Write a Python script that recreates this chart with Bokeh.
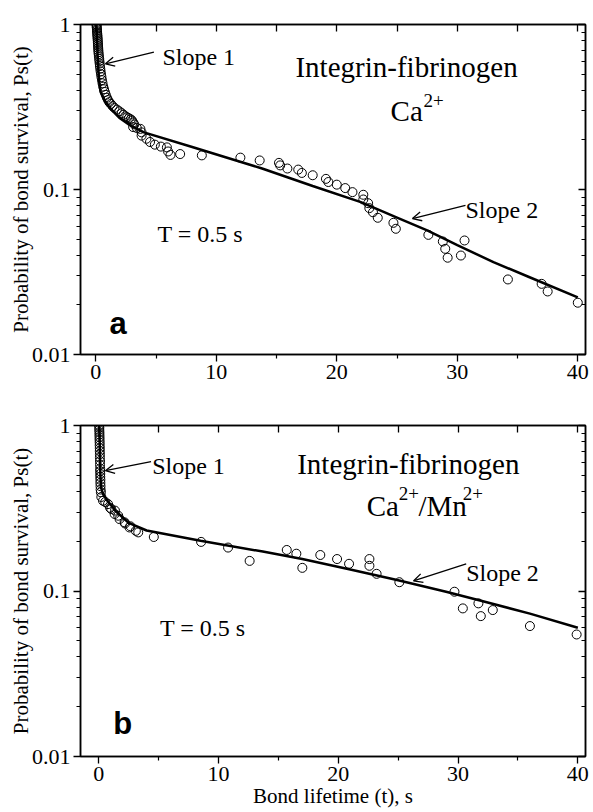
from bokeh.plotting import figure
from bokeh.models import (LinearAxis, LogAxis, FixedTicker, Range1d, Label, Arrow,
                          OpenHead, CustomJSTickFormatter)
from bokeh.layouts import column
from bokeh.embed import file_html
from bokeh.resources import INLINE

# ---------------- data: panel a (Ca2+) ----------------
a_t = [0.06, 0.07, 0.08, 0.09, 0.10, 0.11, 0.12, 0.13, 0.14, 0.15, 0.16, 0.17, 0.18, 0.19, 0.20,
       0.21, 0.22, 0.24, 0.26, 0.28, 0.30, 0.32, 0.34, 0.37, 0.40, 0.43, 0.47, 0.51, 0.56, 0.62,
       0.68, 0.75, 0.83, 0.92, 1.02, 1.12, 1.25, 1.40, 1.55, 1.75, 1.95, 2.15, 2.30, 2.45, 2.60,
       2.75, 2.90, 3.00, 3.10, 3.20, 3.10, 3.40, 3.70, 3.80, 3.80, 4.20, 4.50, 4.90, 5.40, 5.90,
       6.00, 6.20, 7.00, 8.80, 12.0, 13.6, 15.2, 15.3, 15.9, 16.8, 17.1, 18.0, 19.1, 19.3, 20.0,
       20.7, 21.3, 22.2, 22.2, 22.6, 22.7, 23.0, 23.4, 24.7, 24.9, 27.6, 28.8, 29.0, 29.2, 30.6,
       30.3, 34.2, 37.0, 37.5, 40.0]
a_p = [1.00, 0.98, 0.96, 0.94, 0.92, 0.90, 0.88, 0.86, 0.84, 0.82, 0.80, 0.78, 0.76, 0.74, 0.72,
       0.70, 0.68, 0.66, 0.64, 0.62, 0.60, 0.58, 0.56, 0.54, 0.52, 0.50, 0.48, 0.46, 0.44, 0.42,
       0.405, 0.39, 0.375, 0.36, 0.348, 0.338, 0.33, 0.32, 0.312, 0.305, 0.298, 0.29, 0.284, 0.278, 0.274,
       0.27, 0.266, 0.262, 0.255, 0.248, 0.239, 0.236, 0.233, 0.222, 0.212, 0.203, 0.194, 0.187, 0.182, 0.180,
       0.170, 0.162, 0.164, 0.161, 0.156, 0.150, 0.145, 0.140, 0.134, 0.132, 0.126, 0.122, 0.116, 0.111, 0.107,
       0.102, 0.0964, 0.0929, 0.0870, 0.0826, 0.0771, 0.0728, 0.0674, 0.0628, 0.0578, 0.0531, 0.0484, 0.0437, 0.0386, 0.0491,
       0.0398, 0.0285, 0.0268, 0.0241, 0.0206]
a_fit_t = [0.05, 0.1, 0.15, 0.22, 0.3, 0.4, 0.7, 1.2, 2.0, 2.8, 4.0, 8.0, 13.8, 18.0, 22.0, 25.0,
           27.5, 30.0, 33.0, 36.0, 40.0]
a_fit_p = [1.0, 0.8, 0.65, 0.52, 0.44, 0.39, 0.35, 0.31, 0.27, 0.246, 0.222, 0.181, 0.134, 0.105,
           0.0838, 0.0676, 0.0565, 0.046, 0.0363, 0.0294, 0.0222]

# ---------------- data: panel b (Ca2+/Mn2+) ----------------
b_t = [0.04, 0.05, 0.05, 0.06, 0.06, 0.07, 0.07, 0.08, 0.08, 0.09, 0.09, 0.10, 0.10, 0.11, 0.11,
       0.12, 0.12, 0.13, 0.13, 0.14, 0.14, 0.15, 0.16, 0.18, 0.22, 0.36, 0.55, 0.78, 0.95, 1.05,
       1.36, 1.33, 1.63, 1.74, 2.16, 2.20, 2.57, 2.65, 3.10, 3.30, 4.60, 8.55, 10.8, 12.6, 15.7,
       16.5, 17.0, 18.5, 19.9, 20.9, 22.6, 22.6, 23.2, 25.1, 29.7, 30.4, 31.7, 31.9, 32.9, 36.0,
       39.9]
b_p = [1.00, 0.97, 0.94, 0.91, 0.88, 0.85, 0.82, 0.79, 0.76, 0.73, 0.70, 0.67, 0.64, 0.61, 0.58,
       0.55, 0.53, 0.51, 0.49, 0.47, 0.45, 0.43, 0.41, 0.395, 0.37, 0.351, 0.345, 0.335, 0.318, 0.313,
       0.306, 0.292, 0.285, 0.272, 0.260, 0.256, 0.242, 0.246, 0.231, 0.226, 0.212, 0.198, 0.183, 0.152, 0.177,
       0.168, 0.138, 0.165, 0.156, 0.146, 0.156, 0.142, 0.127, 0.113, 0.099, 0.0785, 0.0842, 0.0705, 0.0767, 0.0614,
       0.0546]
b_fit_t = [0.05, 0.08, 0.11, 0.14, 0.2, 0.4, 0.8, 1.5, 2.5, 4.0, 8.5, 13.7, 17.0, 21.0, 25.0,
           29.0, 32.0, 36.0, 40.0]
b_fit_p = [1.0, 0.8, 0.62, 0.5, 0.42, 0.38, 0.345, 0.30, 0.258, 0.232, 0.201, 0.173, 0.156, 0.135,
           0.116, 0.099, 0.087, 0.073, 0.06]

# ---------------- ticks ----------------
x_major = [0, 10, 20, 30, 40]
x_minor = [5, 15, 25, 35]
x_top = [0, 5, 10, 15, 20, 25, 30, 35, 40]
y_major = [0.01, 0.1, 1]
y_minor = [0.02, 0.03, 0.04, 0.05, 0.06, 0.07, 0.08, 0.09,
           0.2, 0.3, 0.4, 0.5, 0.6, 0.7, 0.8, 0.9]

SERIF = "Liberation Serif"


def blank():
    return CustomJSTickFormatter(code="return ''")


def ylog_fmt():
    return CustomJSTickFormatter(code="""
        if (tick >= 0.999) return '1';
        if (tick >= 0.0999) return '0.1';
        return '0.01';
    """)


def make_panel(x0, height, left, top, bottom, show_xlabel, t, p, ft, fp, texts):
    f = figure(width=593, height=height, y_axis_type="log",
               x_range=Range1d(x0, 40.64), y_range=Range1d(0.01, 1),
               output_backend="svg", toolbar_location=None,
               min_border_left=left, min_border_right=8,
               min_border_top=top, min_border_bottom=bottom,
               x_axis_location=None, y_axis_location=None)
    f.xgrid.visible = False
    f.ygrid.visible = False
    f.outline_line_color = "black"
    f.outline_line_width = 1.5
    f.background_fill_color = "white"
    f.border_fill_color = "white"

    xb = LinearAxis(ticker=FixedTicker(ticks=x_major, minor_ticks=x_minor))
    xt = LinearAxis(ticker=FixedTicker(ticks=x_top), formatter=blank())
    yl = LogAxis(ticker=FixedTicker(ticks=y_major, minor_ticks=y_minor), formatter=ylog_fmt())
    yr = LogAxis(ticker=FixedTicker(ticks=y_major, minor_ticks=y_minor), formatter=blank())
    for ax in (xb, xt, yl, yr):
        ax.axis_line_width = 1.5
        ax.axis_line_color = "black"
        ax.major_tick_line_color = "black"
        ax.minor_tick_line_color = "black"
        ax.major_tick_line_width = 1.3
        ax.minor_tick_line_width = 1.2
        ax.major_label_text_font = SERIF
        ax.major_label_text_font_size = "22px"
        ax.major_label_text_color = "black"
        ax.axis_label_text_font = SERIF
        ax.axis_label_text_font_size = "21px"
        ax.axis_label_text_font_style = "normal"
        ax.axis_label_text_color = "black"
    xb.major_tick_out, xb.major_tick_in = 7, 0
    xb.minor_tick_out, xb.minor_tick_in = 4, 0
    xb.major_label_standoff = 3
    xt.major_tick_in, xt.major_tick_out = 7, 0
    xt.minor_tick_in = xt.minor_tick_out = 0
    xt.major_label_text_font_size = "0px"
    xt.major_label_standoff = 0
    yl.major_tick_out, yl.major_tick_in = 7, 0
    yl.minor_tick_out, yl.minor_tick_in = 4, 0
    yl.major_label_standoff = 3
    yl.axis_label = "Probability of bond survival, Ps(t)"
    yl.axis_label_standoff = -4
    yr.major_tick_in, yr.major_tick_out = 7, 0
    yr.minor_tick_in, yr.minor_tick_out = 4, 0
    yr.major_label_text_font_size = "0px"
    yr.major_label_standoff = 0
    if show_xlabel:
        xb.axis_label = "Bond lifetime (t), s"
        xb.axis_label_standoff = 0
    f.add_layout(xb, "below")
    f.add_layout(xt, "above")
    f.add_layout(yl, "left")
    f.add_layout(yr, "right")

    f.line(ft, fp, line_color="black", line_width=2.5)
    f.scatter(t, p, marker="circle", size=9, fill_color=None,
              line_color="black", line_width=1)

    for (x, y, s, size, font, style) in texts:
        f.add_layout(Label(x=x, y=y, text=s, text_font=font, text_font_size=size,
                           text_font_style=style, text_color="black",
                           text_align="left", text_baseline="alphabetic"))
    return f


texts_a = [
    (5.53, 0.634, "Slope 1", "24px", SERIF, "normal"),
    (16.57, 0.556, "Integrin-fibrinogen", "29px", SERIF, "normal"),
    (24.46, 0.301, "Ca", "29px", SERIF, "normal"),
    (27.2, 0.346, "2+", "19px", SERIF, "normal"),
    (5.12, 0.0541, "T = 0.5 s", "24px", SERIF, "normal"),
    (30.68, 0.0746, "Slope 2", "24px", SERIF, "normal"),
    (1.14, 0.0154, "a", "31px", "Liberation Sans", "bold"),
]
texts_b = [
    (4.46, 0.567, "Slope 1", "24px", SERIF, "normal"),
    (16.57, 0.589, "Integrin-fibrinogen", "29px", SERIF, "normal"),
    (22.38, 0.327, "Ca", "29px", SERIF, "normal"),
    (25.04, 0.387, "2+", "19px", SERIF, "normal"),
    (26.70, 0.327, "/Mn", "29px", SERIF, "normal"),
    (30.4, 0.387, "2+", "19px", SERIF, "normal"),
    (5.12, 0.060, "T = 0.5 s", "24px", SERIF, "normal"),
    (30.68, 0.129, "Slope 2", "24px", SERIF, "normal"),
    (1.22, 0.0158, "b", "31px", "Liberation Sans", "bold"),
]

pa = make_panel(-1.27, 400, 80, 24, 46, False, a_t, a_p, a_fit_t, a_fit_p, texts_a)
pb = make_panel(-1.52, 411, 77, 25, 55, True, b_t, b_p, b_fit_t, b_fit_p, texts_b)

for f, arrows in ((pa, [(4.82, 0.679, 0.80, 0.578), (30.68, 0.080, 26.28, 0.0667)]),
                  (pb, [(4.37, 0.605, 0.56, 0.533), (30.68, 0.146, 26.28, 0.115)])):
    for (xs, ys, xe, ye) in arrows:
        f.add_layout(Arrow(end=OpenHead(size=9, line_width=1.3, line_color="black"),
                           x_start=xs, y_start=ys, x_end=xe, y_end=ye,
                           line_width=1.3, line_color="black"))

layout = column(pa, pb, spacing=0)
open("out.html", "w").write(file_html(layout, INLINE))
